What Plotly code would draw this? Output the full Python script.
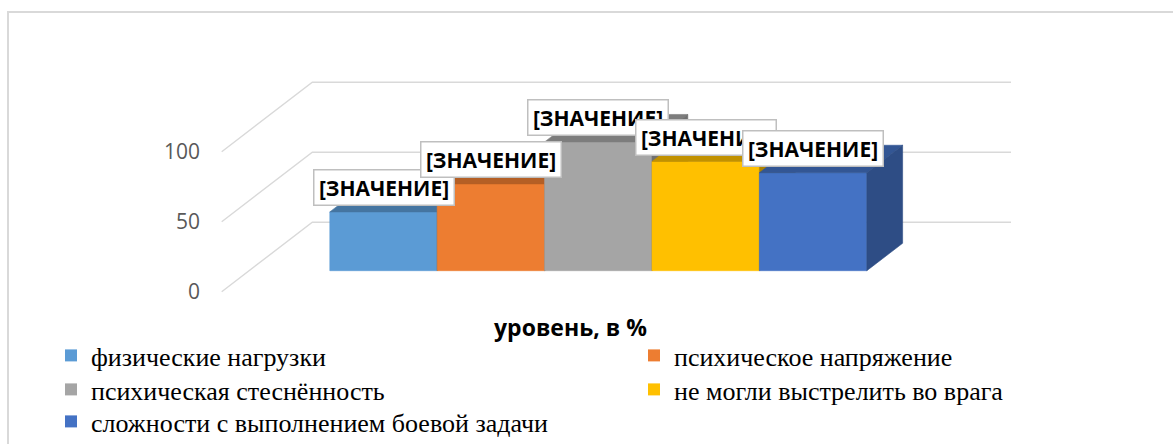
import plotly.graph_objects as go

# ---------------- data ----------------
categories = [
    "физические нагрузки",
    "психическое напряжение",
    "психическая стеснённость",
    "не могли выстрелить во врага",
    "сложности с выполнением боевой задачи",
]
values = [42, 62, 92, 78, 70]
label_texts = ["[ЗНАЧЕНИЕ]", "[ЗНАЧЕНИЕ]", "[ЗНАЧЕНИЕ]", "[ЗНАЧЕНИЕ]", "[ЗНАЧЕНИЕ]"]
y_tick_values = [0, 50, 100]
y_tick_labels = ["0", "50", "100"]
grid_levels = [0, 50, 100]
axis_title = "уровень, в %"

front_colors = ["#5B9BD5", "#ED7D31", "#A5A5A5", "#FFC000", "#4472C4"]

# ---------------- projection / style ----------------
W, H = 1173, 444
PX_CAT = 107.4          # pixels per category
PX_VAL = 1.4            # pixels per value unit
X0_PX = 356.1           # pixel x of category 0 at the front plane
Y0_PX = 291.7           # pixel y of value 0 at the front plane
KX = 1.305 * PX_VAL / PX_CAT   # x shift (categories) per depth unit
BAR_FRONT, BAR_BACK, WALL_BACK = 15.0, 34.6, 49.6
WALL_X0, WALL_X1 = -1.2514, 5.254
GRID_COLOR = "#D9D9D9"
SERIF = "Liberation Serif, Tinos, Times New Roman, serif"
SANS = "Open Sans, sans-serif"

# legend grid: two columns, rows filled left to right
LEGEND_COL_X = [51, 634]
LEGEND_ROW_TOP = [332, 366, 398]


def shade(hex_color, f):
    h = hex_color.lstrip("#")
    r, g, b = (int(h[i:i + 2], 16) for i in (0, 2, 4))
    return "#%02X%02X%02X" % (int(r * f), int(g * f), int(b * f))


def proj(x, v, d):
    return x + d * KX, v + d


fig = go.Figure()

# walls (grid lines)
for g in grid_levels:
    pts = [proj(WALL_X0, g, 0), proj(WALL_X0, g, WALL_BACK), proj(WALL_X1, g, WALL_BACK)]
    fig.add_trace(go.Scatter(
        x=[p[0] for p in pts], y=[p[1] for p in pts], mode="lines",
        line=dict(color=GRID_COLOR, width=1.4), showlegend=False, hoverinfo="skip"))


def poly(pts, color):
    xs = [p[0] for p in pts] + [pts[0][0]]
    ys = [p[1] for p in pts] + [pts[0][1]]
    fig.add_trace(go.Scatter(
        x=xs, y=ys, mode="lines", fill="toself", fillcolor=color,
        line=dict(color=color, width=0.6), showlegend=False, hoverinfo="skip"))


# bars, drawn left to right
for i, v in enumerate(values):
    c = front_colors[i]
    xl, xr = i - 0.5, i + 0.5
    poly([proj(xl, 0, BAR_FRONT), proj(xr, 0, BAR_FRONT), proj(xr, v, BAR_FRONT), proj(xl, v, BAR_FRONT)], c)
    poly([proj(xl, v, BAR_FRONT), proj(xr, v, BAR_FRONT), proj(xr, v, BAR_BACK), proj(xl, v, BAR_BACK)], shade(c, 0.76))
    poly([proj(xr, 0, BAR_FRONT), proj(xr, 0, BAR_BACK), proj(xr, v, BAR_BACK), proj(xr, v, BAR_FRONT)], shade(c, 0.68))

# legend entries (one legend box per cell of the 2-column grid)
legend_layouts = {}
for i, name in enumerate(categories):
    key = "legend" if i == 0 else "legend%d" % (i + 1)
    fig.add_trace(go.Scatter(
        x=[None], y=[None], mode="markers", name=name,
        marker=dict(symbol="square", size=12, color=front_colors[i]),
        legend=key))
    col, row = i % 2, i // 2
    legend_layouts[key] = dict(
        x=LEGEND_COL_X[col] / W, y=1 - LEGEND_ROW_TOP[row] / H,
        orientation="v", xanchor="left", yanchor="top", bgcolor="rgba(0,0,0,0)",
        font=dict(family=SERIF, size=26, color="#000000"),
        itemclick=False, itemdoubleclick=False)

# data labels
annotations = []
for i, v in enumerate(values):
    cx, cy = proj(i, v, BAR_FRONT)
    annotations.append(dict(
        x=cx, y=cy, xref="x", yref="y", text="<b>%s</b>" % label_texts[i],
        showarrow=False, xanchor="center", yanchor="bottom", yshift=6,
        width=131, height=26, borderpad=4, borderwidth=1.5,
        bordercolor="#BFBFBF", bgcolor="#FFFFFF",
        font=dict(family=SANS, size=21, color="#000000")))

annotations.append(dict(
    x=570 / W, y=1 - 327 / H, xref="paper", yref="paper", text="<b>%s</b>" % axis_title,
    showarrow=False, xanchor="center", yanchor="middle",
    font=dict(family=SANS, size=23, color="#000000")))

fig.update_layout(
    width=W, height=H, autosize=False,
    margin=dict(l=0, r=0, t=0, b=0, autoexpand=False),
    paper_bgcolor="#FFFFFF", plot_bgcolor="rgba(0,0,0,0)",
    xaxis=dict(range=[-X0_PX / PX_CAT, (W - X0_PX) / PX_CAT], visible=False, fixedrange=True),
    yaxis=dict(range=[-(H - Y0_PX) / PX_VAL, Y0_PX / PX_VAL], anchor="free", position=200 / W,
               side="left", showgrid=False, zeroline=False, showline=False, ticks="",
               tickvals=y_tick_values, ticktext=y_tick_labels, fixedrange=True,
               tickfont=dict(family=SANS, size=21, color="#595959")),
    annotations=annotations,
    shapes=[dict(type="rect", xref="paper", yref="paper",
                 x0=8 / W, x1=1.02, y0=1 - 12 / H, y1=-0.05,
                 line=dict(color="#D9D9D9", width=2), fillcolor="rgba(0,0,0,0)", layer="below")],
    showlegend=True,
    **legend_layouts,
)

fig.write_html("out.html", config={"displayModeBar": False},
               post_script="document.body.style.margin='0';")
